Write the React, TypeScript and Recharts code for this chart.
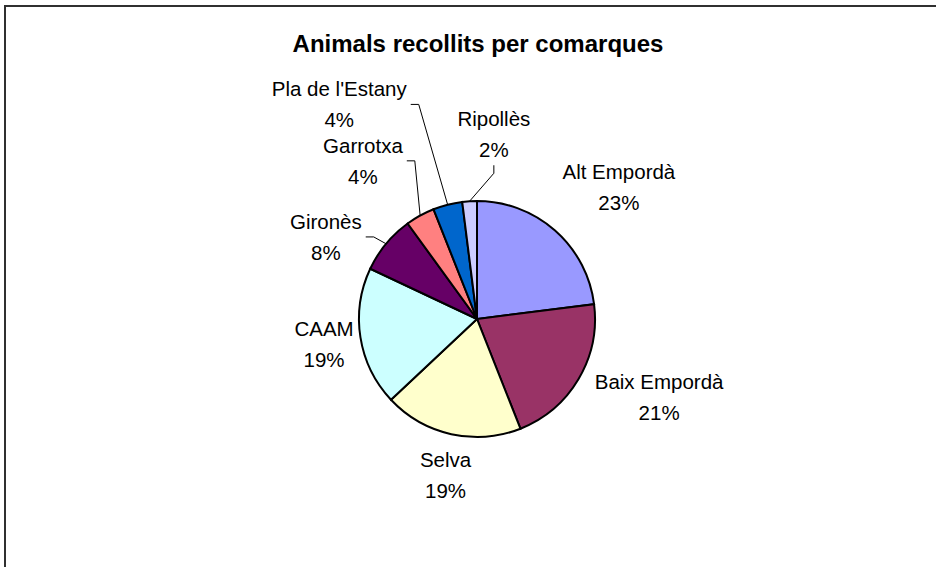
import { PieChart, Pie, Cell } from 'recharts';

// Animals recollits per comarques (share of total, %)
const comarques = ['Alt Empordà', 'Baix Empordà', 'Selva', 'CAAM', 'Gironès', 'Garrotxa', "Pla de l'Estany", 'Ripollès'];
const shares = [23, 21, 19, 19, 8, 4, 4, 2];

// Excel 2003 default pie palette
const COLORS = ['#9999FF', '#993366', '#FFFFCC', '#CCFFFF', '#660066', '#FF8080', '#0066CC', '#CCCCFF'];

// label placement: [distance from centre, clockwise angle shift from slice middle]
const LABEL_LAYOUT: [number, number][] = [
  [194, 5.6],
  [198, -7.5],
  [159, -1.2],
  [155, -0.3],
  [172, -11.1],
  [195, -7.0],
  [255, -18.3],
  [186, 8.8],
];

const FONT = "'Liberation Sans', Arial, sans-serif";
const LABEL_SIZE = 20.5;
const RAD = Math.PI / 180;

const data = comarques.map((name, i) => ({ name, value: shares[i] }));

const polar = (cx: number, cy: number, r: number, angle: number) => ({
  x: cx + r * Math.cos(-angle * RAD),
  y: cy + r * Math.sin(-angle * RAD),
});

let ctx: CanvasRenderingContext2D | null = null;
const textWidth = (s: string) => {
  if (!ctx) ctx = document.createElement('canvas').getContext('2d');
  if (!ctx) return s.length * LABEL_SIZE * 0.5;
  ctx.font = `${LABEL_SIZE}px ${FONT}`;
  return ctx.measureText(s).width;
};

const renderLabel = (props: any) => {
  const { cx, cy, midAngle, outerRadius, percent, index } = props;
  const name = comarques[index];
  const pct = `${Math.round(percent * 100)}%`;
  const [dist, shift] = LABEL_LAYOUT[index];
  const c = polar(cx, cy, dist, midAngle - shift);
  const half = 15.5;
  const base = LABEL_SIZE * 0.36;

  // leader lines only for the thin slices
  let leader = null;
  if (percent < 0.1) {
    const s = polar(cx, cy, outerRadius, midAngle);
    const hw = Math.max(textWidth(name), textWidth(pct)) / 2 + 4;
    let pts: { x: number; y: number }[];
    if (s.x > c.x + hw) {
      pts = [{ x: c.x + hw, y: c.y }, { x: c.x + hw + 8, y: c.y }, s];
    } else if (s.x < c.x - hw) {
      pts = [{ x: c.x - hw, y: c.y }, { x: c.x - hw - 8, y: c.y }, s];
    } else {
      const by = c.y + half + 16;
      pts = [{ x: c.x, y: by }, { x: c.x, y: by + 8 }, s];
    }
    leader = (
      <polyline
        points={pts.map((p) => `${p.x},${p.y}`).join(' ')}
        fill="none"
        stroke="#000"
        strokeWidth={1}
      />
    );
  }

  return (
    <g key={`lbl-${index}`}>
      {leader}
      <text x={c.x} y={c.y - half + base} textAnchor="middle" fill="#000" fontSize={LABEL_SIZE} fontFamily={FONT}>
        {name}
      </text>
      <text x={c.x} y={c.y + half + base} textAnchor="middle" fill="#000" fontSize={LABEL_SIZE} fontFamily={FONT}>
        {pct}
      </text>
    </g>
  );
};

const App = () => {
  return (
    <div style={{ position: 'fixed', left: 0, top: 0, width: 936, height: 567, overflow: 'hidden', background: '#fff' }}>
      <div
        style={{
          position: 'absolute',
          left: 0,
          width: 956,
          top: 30,
          textAlign: 'center',
          fontFamily: FONT,
          fontWeight: 'bold',
          fontSize: 24,
          lineHeight: 'normal',
          color: '#000',
        }}
      >
        Animals recollits per comarques
      </div>
      <div style={{ position: 'absolute', left: 0, top: 0 }}>
        <PieChart width={936} height={567} margin={{ top: 0, right: 0, bottom: 0, left: 0 }}>
          <Pie
            data={data}
            dataKey="value"
            nameKey="name"
            cx={477}
            cy={319}
            outerRadius={118}
            startAngle={90}
            endAngle={-270}
            stroke="#000"
            strokeWidth={2}
            label={renderLabel}
            labelLine={false}
            isAnimationActive={false}
          >
            {data.map((entry, index) => (
              <Cell key={`cell-${index}`} fill={COLORS[index % COLORS.length]} />
            ))}
          </Pie>
        </PieChart>
      </div>
      {/* chart area frame, cut off at the right and bottom */}
      <div
        style={{
          position: 'absolute',
          left: 4,
          top: 5,
          width: 1000,
          height: 1000,
          borderLeft: '2px solid #303030',
          borderTop: '2px solid #303030',
          pointerEvents: 'none',
        }}
      />
    </div>
  );
};

export default App;
